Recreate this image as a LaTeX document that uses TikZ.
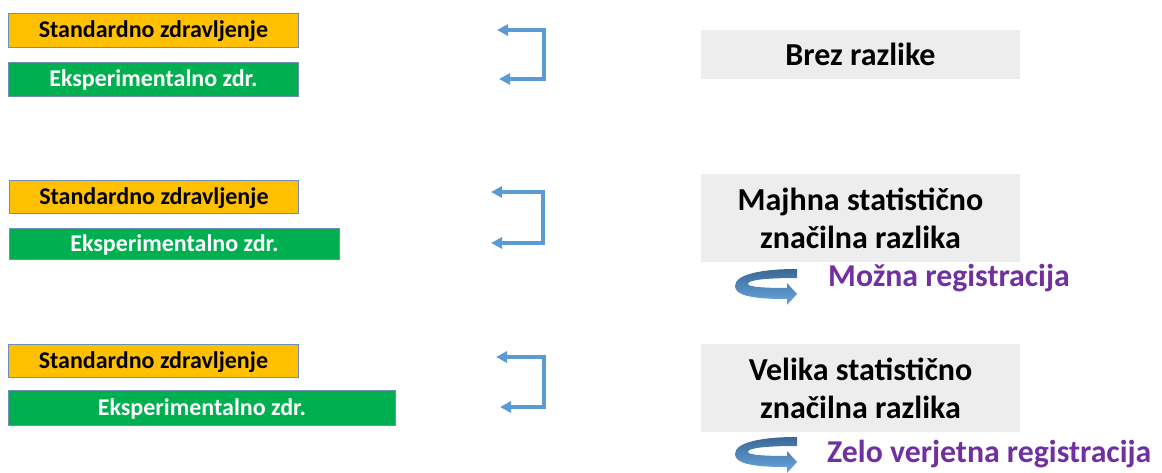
\documentclass[tikz,border=0pt]{standalone}
\usepackage{fontspec}
\setmainfont{Carlito}
\usepackage{xcolor}
\usepackage{tikz}
\usetikzlibrary{arrows.meta, positioning}

\definecolor{boxorange}{HTML}{FFC000}
\definecolor{boxgreen}{HTML}{00B050}
\definecolor{boxedge}{HTML}{6F8FB8}
\definecolor{resgray}{HTML}{EDEDED}
\definecolor{brkblue}{HTML}{5B9BD5}
\definecolor{regpurple}{HTML}{7030A0}
\definecolor{curvetop}{HTML}{3A6896}
\definecolor{curvebot}{HTML}{6AA8E0}

\begin{document}
\begin{tikzpicture}[
    x=1pt, y=-1pt,
    >={Triangle[length=11pt, width=11pt]},
    % Treatment bars
    treatbar/.style={
        rectangle, draw=boxedge, line width=0.8pt, inner sep=0pt,
        minimum height=34pt, anchor=west,
        text height=16pt, text depth=0pt,
        font=\fontsize{24}{28}\selectfont\bfseries
    },
    stdbar/.style={treatbar, fill=boxorange, text=black},
    expbar/.style={treatbar, fill=boxgreen, text=white},
    % Result boxes
    result/.style={
        rectangle, fill=resgray, inner sep=0pt,
        minimum width=319pt, align=center,
        font=\fontsize{32}{38}\selectfont\bfseries
    },
    % Registration label
    reg/.style={
        anchor=base west, text=regpurple, inner sep=0pt,
        font=\fontsize{31.8}{36}\selectfont\bfseries
    },
    % Comparison bracket
    brk/.style={<->, line width=3.5pt, draw=brkblue},
    % Curved arrow
    regarrow/.pic={
        \shade[top color=curvetop, bottom color=curvebot]
            (62,0) .. controls (24,0) and (0,6) .. (0,17)
            .. controls (0,26) and (15,30) .. (52,30)
            -- (52,36) -- (62,25) -- (52,14) -- (52,19)
            .. controls (30,19) and (13,18) .. (13,15)
            .. controls (13,11) and (30,9) .. (62,9) -- cycle;
    },
]

\useasboundingbox (0,0) rectangle (1162,473);

% ===== ROW 1 =====
\node[stdbar, minimum width=290pt] (std1) at (8,30) {Standardno zdravljenje};
\node[expbar, minimum width=290pt] (exp1) at (8,79) {Eksperimentalno zdr.};

\coordinate (brk1a) at (497,30);
\coordinate (brk1b) at (499,79);
\draw[brk] (brk1a) -- ++(47,0) |- (brk1b);

\node[result, minimum height=49pt] (res1) at (860.5,54.5) {Brez razlike};

% ===== ROW 2 =====
\node[stdbar, minimum width=289pt, minimum height=33pt] (std2) at (9,196.5) {Standardno zdravljenje};
\node[expbar, minimum width=330pt, minimum height=31pt] (exp2) at (9,243.5) {Eksperimentalno zdr.};

\coordinate (brk2a) at (491,192);
\coordinate (brk2b) at (491,243);
\draw[brk] (brk2a) -- ++(52,0) |- (brk2b);

\node[result, minimum height=88pt] (res2) at (860.5,218)
    {Majhna statistično\\značilna razlika};

\pic (cur2) at (735,269) {regarrow};
\node[reg] (reg2) at (828,287) {Možna registracija};

% ===== ROW 3 =====
\node[stdbar, minimum width=290pt, minimum height=33pt] (std3) at (8,360.5) {Standardno zdravljenje};
\node[expbar, minimum width=387pt, minimum height=35pt] (exp3) at (8,407.5) {Eksperimentalno zdr.};

\coordinate (brk3a) at (496,357);
\coordinate (brk3b) at (500,407);
\draw[brk] (brk3a) -- ++(48,0) |- (brk3b);

\node[result, minimum height=88pt] (res3) at (860.5,388)
    {Velika statistično\\značilna razlika};

\pic (cur3) at (735,437) {regarrow};
\node[reg] (reg3) at (827,462) {Zelo verjetna registracija};

\end{tikzpicture}
\end{document}
